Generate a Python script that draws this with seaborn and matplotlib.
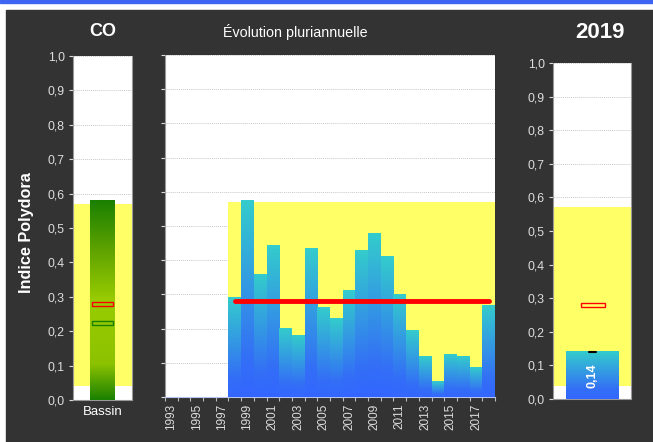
import numpy as np
import matplotlib
matplotlib.use("Agg")
import matplotlib.pyplot as plt
import seaborn as sns
from matplotlib.colors import LinearSegmentedColormap
from matplotlib.patches import Rectangle
from matplotlib.ticker import FuncFormatter, MultipleLocator, FixedLocator

# data
years = [str(y) for y in range(1993, 2019)]
indice = [np.nan] * 5 + [0.291, 0.575, 0.359, 0.442, 0.200, 0.180, 0.433,
                         0.262, 0.230, 0.312, 0.427, 0.477, 0.410, 0.301,
                         0.195, 0.118, 0.044, 0.124, 0.118, 0.085, 0.268]
moyenne = 0.28
band_low, band_high = 0.04, 0.57

bassin_label = ["Bassin"]
bassin_max = [0.58]
bassin_moyenne = 0.28
bassin_mediane = 0.225

annee = ["2019"]
valeur_annee = [0.14]

sns.set_style("white")
plt.rcParams["font.family"] = ["Liberation Sans", "DejaVu Sans"]

DARK = "#333333"
YELLOW = "#ffff66"
TICKC = "#dddddd"

blue_cmap = LinearSegmentedColormap.from_list(
    "bl", [(0, "#3366ff"), (0.2, "#346ff6"), (1, "#33cccc")])
green_cmap = LinearSegmentedColormap.from_list(
    "gr", [(0, "#1a8000"), (0.18, "#8cc200"), (0.5, "#99cc00"),
           (0.75, "#5fa300"), (1, "#1a8000")])

fmt = FuncFormatter(lambda v, p: f"{v:.1f}".replace(".", ","))


def gradient_bars(ax, cmap):
    grad = np.linspace(0, 1, 256).reshape(-1, 1)
    for p in ax.containers[0]:
        h = p.get_height()
        if not np.isfinite(h) or h == 0:
            continue
        x0, w = p.get_x(), p.get_width()
        ax.imshow(grad, extent=[x0, x0 + w, 0, h], origin="lower",
                  cmap=cmap, aspect="auto", zorder=3, interpolation="bilinear")
        p.set_visible(False)


def style_axis(ax, labels=True):
    ax.set_facecolor("white")
    ax.set_ylim(0, 1)
    ax.yaxis.set_major_locator(MultipleLocator(0.1))
    ax.yaxis.set_major_formatter(fmt)
    ax.grid(axis="y", color="#c8c8c8", linestyle=(0, (1, 1)), linewidth=0.7, zorder=0)
    ax.set_axisbelow(True)
    ax.tick_params(axis="y", colors=TICKC, labelsize=8.8, length=3, width=0.8,
                   direction="out", left=True, pad=3, labelleft=labels)
    for s in ax.spines.values():
        s.set_color("#999999")
        s.set_linewidth(0.8)
    ax.set_xlabel("")
    ax.set_ylabel("")


fig = plt.figure(figsize=(6.53, 4.42), dpi=100, facecolor="white")
fig.patches.append(Rectangle((6 / 653, 0), 1, 1 - 10 / 442, transform=fig.transFigure,
                             color=DARK, zorder=-10))
fig.patches.append(Rectangle((0, 1 - 3 / 442), 1, 3 / 442, transform=fig.transFigure,
                             color="#3d64f2", zorder=-10))

# left panel: bassin
ax1 = fig.add_axes([73 / 653, 42 / 442, 59 / 653, 344 / 442])
sns.barplot(x=bassin_label, y=bassin_max, width=0.42, errorbar=None, ax=ax1)
gradient_bars(ax1, green_cmap)
ax1.fill_between([-0.5, 0.5], band_low, band_high, color=YELLOW, zorder=1, linewidth=0)
ax1.add_patch(Rectangle((-0.18, bassin_moyenne - 0.006), 0.36, 0.012, fill=False,
                        edgecolor="red", linewidth=1, zorder=5))
ax1.add_patch(Rectangle((-0.18, bassin_mediane - 0.006), 0.36, 0.012, fill=False,
                        edgecolor="#1a8000", linewidth=1, zorder=5))
ax1.set_xlim(-0.5, 0.5)
style_axis(ax1)
ax1.tick_params(axis="x", colors="white", labelsize=9.5, length=0, pad=4)
ax1.spines["top"].set_visible(False)

# middle panel: evolution
ax2 = fig.add_axes([165 / 653, 45 / 442, 330 / 653, 342 / 442])
sns.barplot(x=years, y=indice, order=years, width=1.0, errorbar=None, ax=ax2)
gradient_bars(ax2, blue_cmap)
first = next(i for i, v in enumerate(indice) if np.isfinite(v))
last = len(years) - 1
ax2.fill_between([first - 0.5, last + 0.5], band_low, band_high, color=YELLOW,
                 zorder=1, linewidth=0)
ax2.plot([first, last], [moyenne, moyenne], color="red", linewidth=3.5,
         solid_capstyle="round", zorder=6)
ax2.set_xlim(-0.5, len(years) - 0.5)
style_axis(ax2, labels=False)
ax2.set_xticks(range(0, len(years), 2))
ax2.set_xticklabels(years[::2], rotation=90)
ax2.xaxis.set_minor_locator(FixedLocator(np.arange(-0.5, len(years), 1)))
ax2.tick_params(axis="x", which="major", colors=TICKC, labelsize=8.5, length=0, pad=5)
ax2.tick_params(axis="x", which="minor", colors="#bbbbbb", length=3, width=0.8,
                bottom=True)
ax2.spines["top"].set_visible(False)
ax2.spines["right"].set_visible(False)
ax2.spines["bottom"].set_color("#b8c4f0")

# right panel: current year
ax3 = fig.add_axes([553 / 653, 43 / 442, 78 / 653, 336 / 442])
sns.barplot(x=annee, y=valeur_annee, width=0.67, errorbar=None, ax=ax3)
gradient_bars(ax3, blue_cmap)
ax3.fill_between([-0.5, 0.5], band_low, band_high, color=YELLOW, zorder=1, linewidth=0)
ax3.add_patch(Rectangle((-0.14, moyenne - 0.007), 0.31, 0.014, fill=False,
                        edgecolor="red", linewidth=1, zorder=5))
ax3.plot([-0.04, 0.05], [valeur_annee[0], valeur_annee[0]], color="black",
         linewidth=1.5, zorder=6)
ax3.text(0, valeur_annee[0] / 2, f"{valeur_annee[0]:.2f}".replace(".", ","),
         rotation=90, ha="center", va="center", color="white", fontsize=9,
         fontweight="bold", zorder=7)
ax3.set_xlim(-0.5, 0.5)
style_axis(ax3)
ax3.tick_params(axis="x", length=0, labelbottom=False)
ax3.spines["top"].set_visible(False)

# titles
fig.text(103 / 653, 1 - 31 / 442, "CO", color="white", fontsize=13,
         fontweight="bold", ha="center", va="center")
fig.text(295 / 653, 1 - 32 / 442, "Évolution pluriannuelle", color="white",
         fontsize=10.3, ha="center", va="center")
fig.text(600 / 653, 1 - 32 / 442, annee[0], color="white", fontsize=16,
         fontweight="bold", ha="center", va="center")
fig.text(26 / 653, 1 - 233 / 442, "Indice Polydora", color="white", fontsize=11.7,
         fontweight="bold", rotation=90, ha="center", va="center")

fig.savefig("out.png", dpi=100, facecolor=fig.get_facecolor())
